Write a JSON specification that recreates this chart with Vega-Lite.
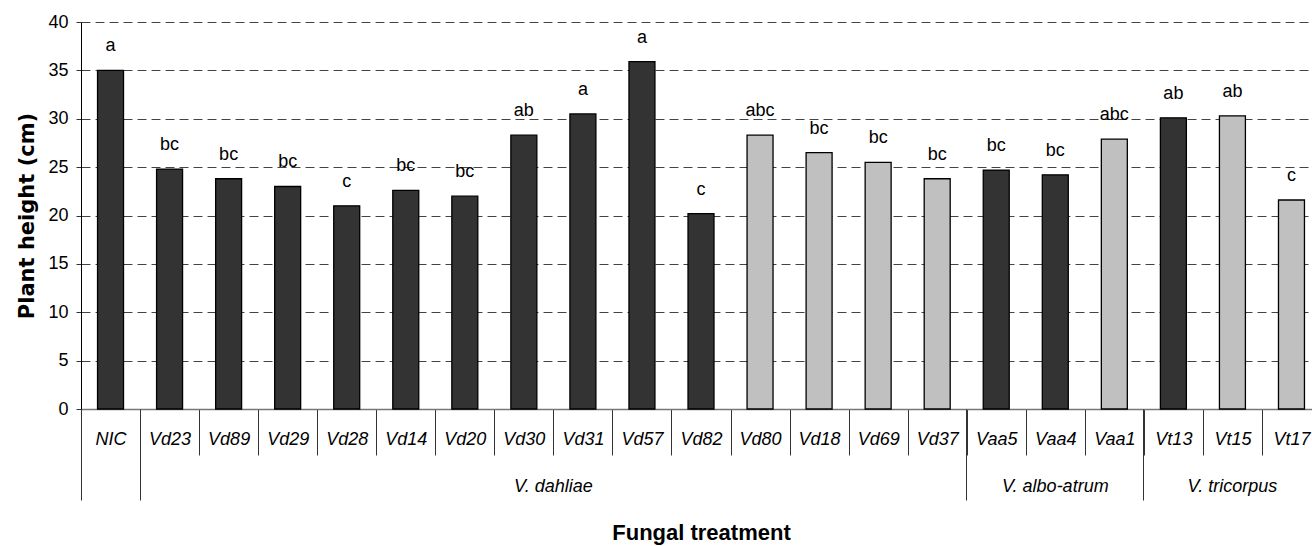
{
  "$schema": "https://vega.github.io/schema/vega-lite/v6.json",
  "width": 1231,
  "height": 387,
  "autosize": {"type": "none"},
  "padding": {"left": 81, "top": 22, "right": 0, "bottom": 137},
  "background": "white",
  "config": {"view": {"stroke": null}, "font": "Liberation Sans"},
  "data": {
    "values": [
      {"treatment": "NIC", "species": "Control", "class": "A", "height": 35.0, "letters": "a"},
      {"treatment": "Vd23", "species": "V. dahliae", "class": "A", "height": 24.8, "letters": "bc"},
      {"treatment": "Vd89", "species": "V. dahliae", "class": "A", "height": 23.8, "letters": "bc"},
      {"treatment": "Vd29", "species": "V. dahliae", "class": "A", "height": 23.0, "letters": "bc"},
      {"treatment": "Vd28", "species": "V. dahliae", "class": "A", "height": 21.0, "letters": "c"},
      {"treatment": "Vd14", "species": "V. dahliae", "class": "A", "height": 22.6, "letters": "bc"},
      {"treatment": "Vd20", "species": "V. dahliae", "class": "A", "height": 22.0, "letters": "bc"},
      {"treatment": "Vd30", "species": "V. dahliae", "class": "A", "height": 28.3, "letters": "ab"},
      {"treatment": "Vd31", "species": "V. dahliae", "class": "A", "height": 30.5, "letters": "a"},
      {"treatment": "Vd57", "species": "V. dahliae", "class": "A", "height": 35.9, "letters": "a"},
      {"treatment": "Vd82", "species": "V. dahliae", "class": "A", "height": 20.2, "letters": "c"},
      {"treatment": "Vd80", "species": "V. dahliae", "class": "B", "height": 28.3, "letters": "abc"},
      {"treatment": "Vd18", "species": "V. dahliae", "class": "B", "height": 26.5, "letters": "bc"},
      {"treatment": "Vd69", "species": "V. dahliae", "class": "B", "height": 25.5, "letters": "bc"},
      {"treatment": "Vd37", "species": "V. dahliae", "class": "B", "height": 23.8, "letters": "bc"},
      {"treatment": "Vaa5", "species": "V. albo-atrum", "class": "A", "height": 24.7, "letters": "bc"},
      {"treatment": "Vaa4", "species": "V. albo-atrum", "class": "A", "height": 24.2, "letters": "bc"},
      {"treatment": "Vaa1", "species": "V. albo-atrum", "class": "B", "height": 27.9, "letters": "abc"},
      {"treatment": "Vt13", "species": "V. tricorpus", "class": "A", "height": 30.1, "letters": "ab"},
      {"treatment": "Vt15", "species": "V. tricorpus", "class": "B", "height": 30.3, "letters": "ab"},
      {"treatment": "Vt17", "species": "V. tricorpus", "class": "B", "height": 21.6, "letters": "c"}
    ]
  },
  "layer": [
    {
      "mark": {"type": "bar", "width": {"band": 0.44}, "stroke": "black", "strokeWidth": 1.3},
      "encoding": {
        "x": {
          "field": "treatment", "type": "nominal", "sort": null,
          "scale": {"range": [0, 1240], "paddingInner": 0, "paddingOuter": 0},
          "axis": {
            "title": null, "orient": "bottom", "tickBand": "extent", "tickSize": 46,
            "tickColor": "#333333", "tickWidth": 1, "domainColor": "#777777", "domainWidth": 1.5,
            "labelFontSize": 18, "labelFontStyle": "italic", "labelFont": "Liberation Sans",
            "labelColor": "black", "labelPadding": -16, "labelBaseline": "middle",
            "labelAngle": 0, "labelOverlap": false, "labelFlush": false, "grid": false
          }
        },
        "y": {
          "field": "height", "type": "quantitative",
          "scale": {"domain": [0, 40], "nice": false},
          "axis": {
            "title": "Plant height (cm)", "values": [0, 5, 10, 15, 20, 25, 30, 35, 40],
            "grid": true, "gridDash": [9, 5], "gridColor": "#444444", "gridWidth": 1,
            "tickSize": 5, "tickColor": "#333333", "domainColor": "black", "domainWidth": 1,
            "labelFontSize": 18, "labelColor": "black", "labelPadding": 8, "labelFont": "Liberation Sans",
            "titleFont": "DejaVu Sans", "titleFontSize": 21, "titleFontWeight": "bold",
            "titleColor": "black", "titlePadding": 10
          }
        },
        "fill": {
          "field": "class", "type": "nominal",
          "scale": {"domain": ["A", "B"], "range": ["#333333", "#c0c0c0"]},
          "legend": null
        }
      }
    },
    {
      "mark": {"type": "text", "baseline": "middle", "dy": -24, "fontSize": 18, "font": "Liberation Sans", "color": "black"},
      "encoding": {
        "x": {
          "field": "treatment", "type": "nominal", "sort": null,
          "axis": {
            "orient": "bottom",
            "values": ["NIC", "Vd23", "Vaa5", "Vt13", "Vd31", "Vaa4", "Vt15"],
            "bandPosition": 0, "tickSize": 91, "tickColor": "#333333", "tickWidth": 1,
            "tickOpacity": {"condition": {"test": "datum.value == 'NIC' || datum.value == 'Vd23' || datum.value == 'Vaa5' || datum.value == 'Vt13'", "value": 1}, "value": 0},
            "domain": false, "grid": false,
            "labelExpr": "datum.value == 'Vd31' ? 'V. dahliae' : datum.value == 'Vaa4' ? 'V. albo-atrum' : datum.value == 'Vt15' ? 'V. tricorpus' : ''",
            "labelOffset": {"condition": {"test": "datum.value == 'Vd31'", "value": -29.5}, "value": 0},
            "labelFontSize": 18, "labelFontStyle": "italic", "labelFont": "Liberation Sans",
            "labelColor": "black", "labelPadding": -14, "labelBaseline": "middle",
            "labelAngle": 0, "labelOverlap": false, "labelFlush": false,
            "title": "Fungal treatment", "titleFontSize": 22, "titleFontWeight": "bold",
            "titleFont": "Liberation Sans", "titleColor": "black", "titlePadding": 22
          }
        },
        "y": {
          "field": "height", "type": "quantitative",
          "scale": {"domain": [0, 40], "nice": false},
          "axis": {
            "title": "Plant height (cm)", "values": [0, 5, 10, 15, 20, 25, 30, 35, 40],
            "grid": true, "gridDash": [9, 5], "gridColor": "#444444", "gridWidth": 1,
            "tickSize": 5, "tickColor": "#333333", "domainColor": "black", "domainWidth": 1,
            "labelFontSize": 18, "labelColor": "black", "labelPadding": 8, "labelFont": "Liberation Sans",
            "titleFont": "DejaVu Sans", "titleFontSize": 21, "titleFontWeight": "bold",
            "titleColor": "black", "titlePadding": 10
          }
        },
        "text": {"field": "letters", "type": "nominal"}
      }
    }
  ],
  "resolve": {"axis": {"x": "independent"}}
}
